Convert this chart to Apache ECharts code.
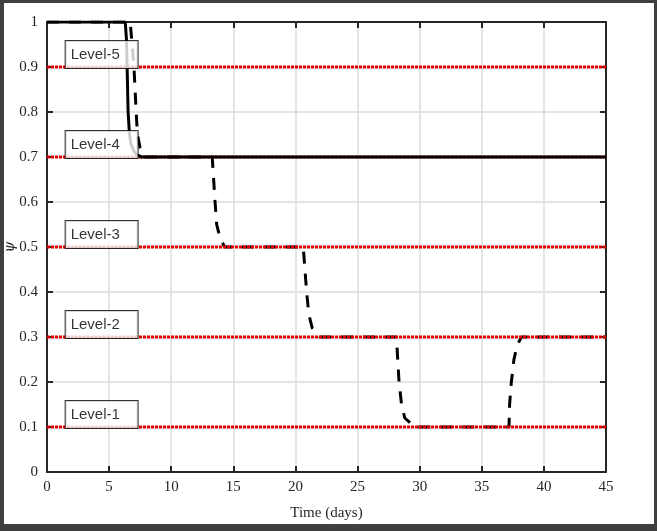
<!DOCTYPE html>
<html>
<head>
<meta charset="utf-8">
<script src="https://cdn.jsdelivr.net/npm/echarts@6/dist/echarts.min.js"></script>
<style>
html,body{margin:0;padding:0;background:#fff;}
#chart{width:657px;height:531px;}
#frame{position:fixed;left:0;top:0;width:657px;height:531px;box-sizing:border-box;border-style:solid;border-color:#3f3f3f;border-width:3px 3px 7px 4px;pointer-events:none;}
</style>
</head>
<body>
<div id="chart"></div>
<div id="frame"></div>
<script>
// x-axis ticks (days) and y-axis ticks
const xTicks = [0,5,10,15,20,25,30,35,40,45];
const yTicks = [0,0.1,0.2,0.3,0.4,0.5,0.6,0.7,0.8,0.9,1];
// reference levels
const levelValues = [0.1,0.3,0.5,0.7,0.9];
const levelNames = ['Level-1','Level-2','Level-3','Level-4','Level-5'];
const levelLabelX = 1.5;
// solid curve (time, psi)
const solidX = [0,6.3,6.4,6.45,6.53,6.64,6.75,6.96,7.2,7.63,45];
const solidY = [1,1,0.96,0.9,0.8,0.75,0.73,0.715,0.705,0.7,0.7];
// dashed curve (time, psi)
const dashX = [0,6.7,7.0,7.18,7.28,7.5,7.9,
               13.3,13.53,13.66,13.93,14.3,
               20.63,20.9,21.08,21.35,21.97,
               28.13,28.34,28.54,28.8,29.6,
               37.19,37.24,37.38,37.59,37.83,38.18,45];
const dashY = [1,1,0.9,0.8,0.75,0.72,0.7,
               0.7,0.6,0.55,0.52,0.5,
               0.5,0.4,0.35,0.32,0.3,
               0.3,0.2,0.15,0.12,0.1,
               0.1,0.15,0.2,0.25,0.28,0.3,0.3];

const chart = echarts.init(document.getElementById('chart'), null, {renderer:'canvas'});
const tickFont = {fontFamily:'Liberation Serif', fontSize:15, color:'#262626'};
const axisCommon = {
  axisLine:{show:true, onZero:false, lineStyle:{color:'#262626', width:2}},
  axisTick:{show:true, inside:true, length:6, lineStyle:{color:'#262626', width:2}},
  splitLine:{show:false},
};
const series = [];
series.push({type:'line', data:dashX.map((x,i)=>[x,dashY[i]]), symbol:'none',
  lineStyle:{color:'#000', width:3, type:[12,10]}, z:2});
levelValues.forEach(function(v){
  series.push({type:'line', data:[[xTicks[0],v],[xTicks[xTicks.length-1],v]], symbol:'none', silent:true,
    lineStyle:{color:'#e00000', width:3, type:[3,1]}, z:3});
});
series.push({type:'line', data:solidX.map((x,i)=>[x,solidY[i]]), symbol:'none',
  lineStyle:{color:'#000', width:3}, z:4});
series.push({type:'scatter', symbolSize:0, z:6,
  data:levelValues.map((v,i)=>({value:[levelLabelX,v], name:levelNames[i]})),
  label:{show:true, position:[0,1], align:'left', verticalAlign:'bottom',
    formatter:p=>p.name, fontFamily:'Liberation Sans', fontSize:15, color:'#000',
    backgroundColor:'#fff', borderColor:'#000', borderWidth:1,
    padding:[5,5,4,5], width:62, height:18, lineHeight:18}});

chart.setOption({
  animation:false,
  backgroundColor:'#fff',
  grid:{left:47, top:22, width:559, height:450, show:false, containLabel:false, outerBoundsMode:'none'},
  xAxis:[{type:'value', min:0, max:45, interval:5, position:'bottom', ...axisCommon,
      splitLine:{show:true, lineStyle:{color:'#dcdcdc', width:1.5}},
      axisLabel:{...tickFont, margin:8},
      name:'Time (days)', nameLocation:'middle', nameGap:34, nameMoveOverlap:false,
      nameTextStyle:{fontFamily:'Liberation Serif', fontSize:15, color:'#262626'}},
    {type:'value', min:0, max:45, interval:5, position:'top', ...axisCommon, axisLabel:{show:false}}],
  yAxis:[{type:'value', min:0, max:1, interval:0.1, position:'left', ...axisCommon,
      splitLine:{show:true, lineStyle:{color:'#dcdcdc', width:1.5}},
      axisLabel:{...tickFont, margin:9, formatter:v=>{const t=yTicks.find(y=>Math.abs(y-v)<1e-9); return String(t===undefined?v:Number(t.toFixed(1)));}},
      name:'ψ', nameLocation:'middle', nameGap:30, nameRotate:90, nameMoveOverlap:false,
      nameTextStyle:{fontFamily:'DejaVu Serif', fontStyle:'italic', fontSize:14, color:'#262626'}},
    {type:'value', min:0, max:1, interval:0.1, position:'right', ...axisCommon, axisLabel:{show:false}}],
  series:series
});
</script>
</body>
</html>
